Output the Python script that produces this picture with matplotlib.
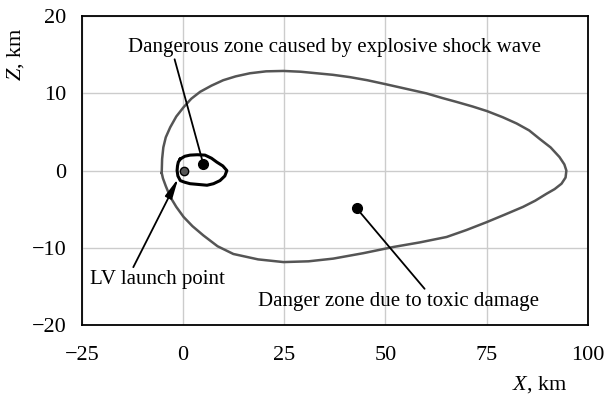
import matplotlib.pyplot as plt

plt.rcParams["font.family"] = "Liberation Serif"
plt.rcParams["mathtext.fontset"] = "custom"
plt.rcParams["mathtext.rm"] = "Liberation Serif"
plt.rcParams["mathtext.it"] = "Liberation Serif:italic"

# toxic damage zone boundary
outer_x = [-5.3, -5.2, -4.9, -4.3, -3.2, -1.7, 0.1, 2.0, 4.2, 7.0, 9.9, 13.0,
           16.5, 20.5, 24.8, 29.0, 33.0, 37.0, 41.2, 45.5, 49.9, 55.0, 60.1,
           64.0, 67.5, 71.5, 75.1, 79.0, 82.4, 85.5, 88.1, 90.8, 93.0, 94.2,
           94.7, 94.5, 93.5, 91.8, 89.8, 87.0, 84.0, 79.5, 74.9, 70.0, 65.1,
           58.5, 51.9, 44.5, 37.1, 31.0, 24.8, 18.5, 12.4, 8.5, 5.0, 2.3, 0.1,
           -1.7, -3.2, -4.3, -5.0, -5.3]
outer_y = [-0.3, 1.5, 3.0, 4.3, 5.6, 7.0, 8.2, 9.3, 10.2, 11.0, 11.7, 12.2,
           12.6, 12.85, 12.9, 12.8, 12.6, 12.4, 12.1, 11.7, 11.2, 10.6, 10.0,
           9.4, 8.9, 8.3, 7.7, 6.9, 6.1, 5.2, 4.1, 3.0, 1.75, 0.8,
           0.0, -0.9, -1.7, -2.4, -3.0, -3.9, -4.7, -5.7, -6.7, -7.7, -8.6,
           -9.3, -9.9, -10.7, -11.4, -11.75, -11.85, -11.5, -10.8, -9.8, -8.4,
           -7.2, -6.0, -4.7, -3.4, -2.0, -1.0, -0.3]

# shock wave zone boundary
inner_x = [-0.7, 0.4, 1.7, 3.5, 5.4, 7.0, 8.3, 9.8, 10.8, 10.3, 9.1, 7.5,
           5.9, 3.8, 1.7, 0.3, -0.7, -1.3, -1.5, -1.4, -1.2, -0.7]
inner_y = [1.5, 1.85, 2.0, 2.05, 2.0, 1.6, 1.1, 0.6, 0.0, -0.7, -1.3, -1.7,
           -1.9, -1.8, -1.7, -1.5, -1.3, -0.7, 0.0, 0.6, 1.1, 1.5]

launch_pt = (0.1, 0.0)
shock_pt = (5.0, 0.8)
toxic_pt = (42.9, -4.9)

xticks = [-25, 0, 25, 50, 75, 100]
yticks = [-20, -10, 0, 10, 20]

fig = plt.figure(figsize=(6.06, 4.03), dpi=100)
ax = fig.add_axes([0.1353, 0.1935, 0.8347, 0.7665])

ax.plot(outer_x, outer_y, color="#555555", lw=1.8, zorder=3)
ax.plot(inner_x, inner_y, color="black", lw=2.2, zorder=3,
        solid_joinstyle="round")

ax.plot(*shock_pt, "o", color="black", ms=7, zorder=5)
ax.plot(*toxic_pt, "o", color="black", ms=7, zorder=5)
ax.plot(*launch_pt, "o", mfc="#555555", mec="black", mew=1, ms=6, zorder=5)

ax.annotate("Dangerous zone caused by explosive shock wave", xy=shock_pt,
            xytext=(37.5, 16.0), ha="center", va="center", fontsize=15,
            arrowprops=dict(arrowstyle="-", color="black", lw=1.3,
                            shrinkA=0, shrinkB=0, relpos=(0.11, 0.0)))
ax.annotate("LV launch point", xy=(-1.2, -1.0), xytext=(-23.0, -14.1),
            ha="left", va="center", fontsize=15,
            arrowprops=dict(arrowstyle="-|>,head_length=0.8,head_width=0.15",
                            color="black", lw=1.3, shrinkA=0, shrinkB=0,
                            relpos=(0.31, 1.0)))
ax.annotate("Danger zone due to toxic damage", xy=toxic_pt,
            xytext=(53.3, -16.9), ha="center", va="center", fontsize=15,
            arrowprops=dict(arrowstyle="-", color="black", lw=1.3,
                            shrinkA=0, shrinkB=0, relpos=(0.6, 1.0)))

ax.set_xlim(-25, 100)
ax.set_ylim(-20, 20)
ax.set_xticks(xticks)
ax.set_yticks(yticks)
ax.tick_params(length=0, labelsize=16)
ax.tick_params(axis="x", pad=15)
ax.tick_params(axis="y", pad=11)
ax.grid(True, color="#cccccc", lw=1)
ax.set_axisbelow(True)
for s in ax.spines.values():
    s.set_linewidth(1.3)

fig.text(0.89, 0.045, r"$X$, km", fontsize=16, ha="center", va="center")
fig.text(0.025, 0.865, r"$Z$, km", fontsize=16, ha="center", va="center",
         rotation=90)

plt.savefig("out.png")
